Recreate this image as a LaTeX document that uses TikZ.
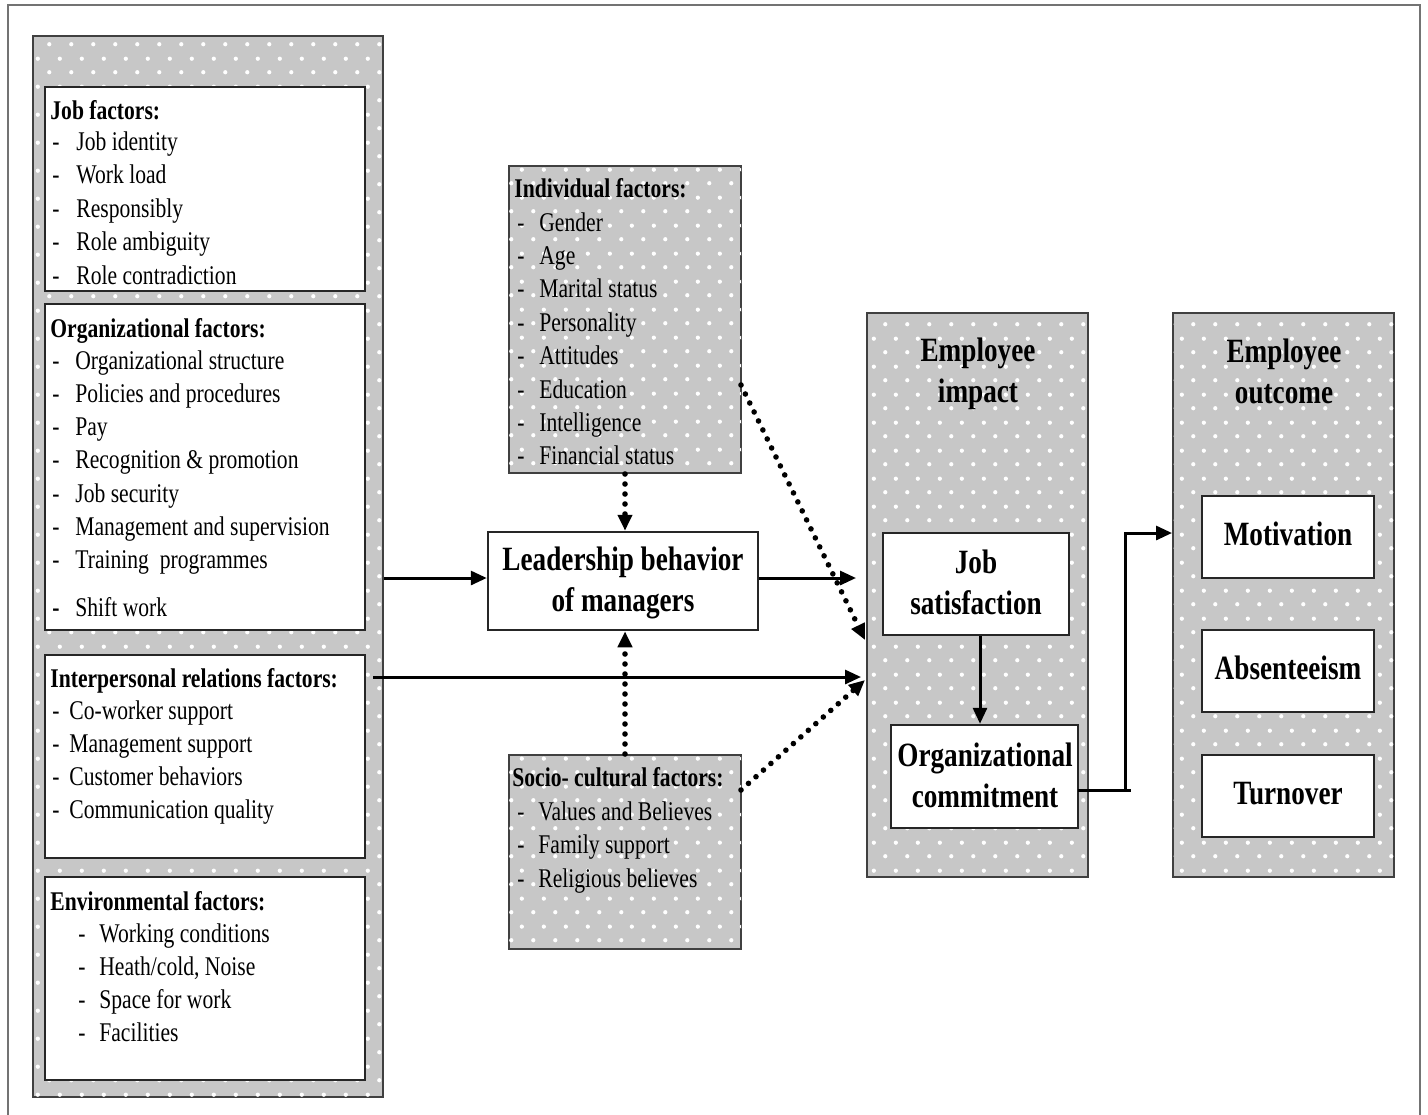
\documentclass[tikz,border=0pt]{standalone}
\usepackage{fontspec}
\setmainfont{Liberation Serif}[FakeStretch=0.8]
\usetikzlibrary{arrows.meta,patterns.meta,fit}

\tikzdeclarepattern{
  name=wdots,
  type=uncolored,
  bounding box={(0pt,0pt) and (11pt,14pt)},
  tile size={(11pt,14pt)},
  code={
    \fill (2.75pt,3.5pt) circle (1.1pt);
    \fill (8.25pt,10.5pt) circle (1.1pt);
  }
}

\newcommand\flist[6]{%
  \foreach \t [count=\i] in {#6}
    \node[txt] (#1\i) at (#2, {#4+(\i-1)*#5}) {\makebox[#3][l]{-}\t};}

\begin{document}
\begin{tikzpicture}[x=0.5pt,y=-0.5pt,
  panel/.style={draw=black!75, line width=1pt, fill=black!22,
    postaction={pattern=wdots, pattern color=white}, inner sep=0pt},
  wbox/.style={draw=black!85, line width=1.25pt, fill=white, inner sep=0pt},
  txt/.style={inner sep=0pt, anchor=base west, font=\fontsize{13.5}{16}\selectfont},
  hd/.style={txt, font=\bfseries\fontsize{13.5}{16}\selectfont},
  big/.style={font=\bfseries\fontsize{17}{20.5}\selectfont, align=center},
  arr/.style={line width=1.5pt, -{Triangle[length=8pt,width=7pt]}},
  dotarr/.style={line width=2.8pt, dash pattern=on 0pt off 5pt, line cap=round,
    -{Triangle[length=8pt,width=7pt]}},
]
\useasboundingbox (0,0) rectangle (1428,1114);
\draw[black!55, line width=1pt] (8,5) rectangle (1420,1140);

% panels
\node[panel, fit={(33,36) (383,1097)}] (leftp) {};
\node[panel, fit={(509,166) (741,473)}] (indiv) {};
\node[panel, fit={(509,755) (741,949)}] (socio) {};
\node[panel, fit={(867,313) (1088,877)}] (impact) {};
\node[panel, fit={(1173,313) (1394,877)}] (outcome) {};

% white boxes in left panel
\node[wbox, fit={(45,87) (365,291)}] (jobf) {};
\node[wbox, fit={(45,304) (365,630)}] (orgf) {};
\node[wbox, fit={(45,655) (365,858)}] (interp) {};
\node[wbox, fit={(45,877) (365,1080)}] (envf) {};

% job factors
\node[hd] (jobh) at (50,119) {Job factors:};
\flist{job}{52}{12pt}{150}{33.5}{Job identity, Work load, Responsibly, Role ambiguity, Role contradiction}

% organizational factors
\node[hd] (orgh) at (50,337) {Organizational factors:};
\flist{org}{52}{11.5pt}{369}{33.3}{Organizational structure, Policies and procedures, Pay, Recognition \& promotion, Job security, Management and supervision, Training\ \ programmes}
\node[txt] (org8) at (52,616) {\makebox[11.5pt][l]{\bfseries -}Shift work};

% interpersonal
\node[hd] (intph) at (50,687) {Interpersonal relations factors:};
\flist{intp}{52}{8.5pt}{719}{33.3}{Co-worker support, Management support, Customer behaviors, Communication quality}

% environmental
\node[hd] (envh) at (50,910) {Environmental factors:};
\flist{env}{78}{10.5pt}{942}{33.3}{Working conditions, {Heath/cold, Noise}, Space for work, Facilities}

% individual
\node[hd] (indh) at (514,197) {Individual factors:};
\flist{ind}{517}{11pt}{231}{33.4}{Gender, Age, Marital status, Personality, Attitudes, Education, Intelligence, Financial status}

% socio-cultural
\node[hd] (soch) at (512,786) {Socio- cultural factors:};
\flist{soc}{517}{10.5pt}{820}{33.5}{Values and Believes, Family support, Religious believes}

% centre boxes
\node[wbox, fit={(488,532) (758,630)}] (lead) {};
\node[big] (leadt) at (623,583) {Leadership behavior\\of managers};

\node[big] (impt) at (978,374) {Employee\\impact};
\node[big] (outt) at (1284,371) {Employee\\outcome};

\node[wbox, fit={(883,533) (1069,635)}] (js) {};
\node[big] (jst) at (976,582) {Job\\satisfaction};
\node[wbox, fit={(891,725) (1078,828)}] (oc) {};
\node[big] (oct) at (985,775) {Organizational\\commitment};

\node[wbox, fit={(1202,496) (1374,578)}] (mot) {};
\node[big] (mott) at (1288,534) {Motivation};
\node[wbox, fit={(1202,630) (1374,712)}] (abs) {};
\node[big] (abst) at (1288,668) {Absenteeism};
\node[wbox, fit={(1202,755) (1374,837)}] (turn) {};
\node[big] (turnt) at (1288,794) {Turnover};

% coordinates for free ends
\coordinate (ip) at (373,677);
\coordinate (ind1) at (741,385);
\coordinate (imp1) at (865,640);
\coordinate (soc1) at (741,790);
\coordinate (imp2) at (865,680);
\coordinate (ocout) at (1078,790);
\coordinate (elb) at (1125,790);
\coordinate (mtin) at (1172,533);
\coordinate (row1) at (0,578);
\coordinate (jsx) at (980,0);

% connectors
\draw[arr] (leftp.east |- row1) -- (lead.west |- row1);
\draw[arr, shorten >=5pt] (lead.east |- row1) -- (impact.west |- row1);
\draw[arr, shorten >=2.5pt] (ip) -- (ip -| impact.west);
\draw[dotarr] (indiv.south) -- (indiv.south |- lead.north);
\draw[dotarr] (socio.north) -- (socio.north |- lead.south);
\draw[dotarr] (ind1) -- (imp1);
\draw[dotarr] (soc1) -- (imp2);
\draw[arr] (js.south -| jsx) -- (oc.north -| jsx);
\draw[arr] (ocout) -- (elb) |- (mtin);
\draw[line width=1.5pt] (elb) -- ++(6,0);
\end{tikzpicture}
\end{document}
